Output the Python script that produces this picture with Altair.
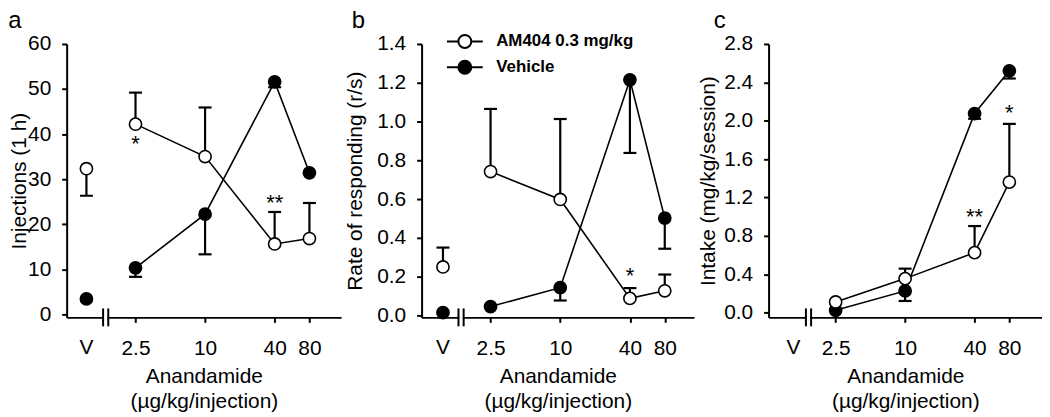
import altair as alt
import pandas as pd

FONT = "Liberation Sans"

series = ["AM404 0.3 mg/kg", "Vehicle"]
doses = [2.5, 10, 40, 80]

# ---- panel a : Injections (1 h)
a_am404 = [42.2, 35.0, 15.6, 16.8]
a_am404_err = [49.2, 45.9, 22.7, 24.7]
a_vehicle = [10.3, 22.2, 51.6, 31.4]
a_vehicle_err = [8.3, 13.3, 50.4, None]
a_v = [32.3, 3.4]          # vehicle-only (V) values: AM404, Vehicle
a_v_err = [26.3, None]
a_stars_x = [2.5, 40]
a_stars_y = [39.2, 26.0]
a_stars_t = ["*", "**"]

# ---- panel b : Rate of responding (r/s)
b_am404 = [0.742, 0.598, 0.088, 0.127]
b_am404_err = [1.065, 1.013, 0.141, 0.211]
b_vehicle = [0.046, 0.143, 1.215, 0.502]
b_vehicle_err = [None, 0.077, 0.838, 0.344]
b_v = [0.25, 0.014]
b_v_err = [0.35, None]
b_stars_x = [40]
b_stars_y = [0.232]
b_stars_t = ["*"]

# ---- panel c : Intake (mg/kg/session)
c_am404 = [0.111, 0.354, 0.625, 1.36]
c_am404_err = [None, 0.458, 0.902, 1.967]
c_vehicle = [0.024, 0.226, 2.075, 2.52]
c_vehicle_err = [None, 0.121, 2.02, 2.44]
c_v = [None, None]
c_v_err = [None, None]
c_stars_x = [40, 80]
c_stars_y = [1.062, 2.144]
c_stars_t = ["**", "*"]

# x-scale placement of the "V" category and of the axis break (dose units, log scale)
v_pos = [0.94, 0.97, 1.08]
break_pos = [1.38, 1.39, 1.455]
x_domains = [[0.634, 150.3], [0.634, 143.2], [0.656, 153.5]]
widths = [276, 274, 275]
H = 275

LEGEND_PATH = "M-2.77,0H-1M1,0H2.77M-1,0A1,1,0,1,0,1,0A1,1,0,1,0,-1,0Z"


def panel(idx, letter, am, am_err, veh, veh_err, vvals, verr, sx, sy, st,
          ytitle, ydomain, yvalues, yformat, tpad, title_dx, legend):
    rows = []
    for s, vals, errs in [(series[1], veh, veh_err), (series[0], am, am_err)]:
        for d, v, e in zip(doses, vals, errs):
            rows.append(dict(x=d, y=v, err=e, series=s, dose=True))
    for s, v, e in zip(series, vvals, verr):
        if v is not None:
            rows.append(dict(x=v_pos[idx], y=v, err=e, series=s, dose=False))
    df = pd.DataFrame(rows)
    df_err = df.dropna(subset=["err"])
    df_line = df[df["dose"]]
    df_star = pd.DataFrame(dict(x=sx, y=sy, t=st))
    df_v = pd.DataFrame(dict(x=[v_pos[idx]], t=["V"]))
    df_brk = pd.DataFrame(dict(x=[break_pos[idx]]))

    xs = alt.Scale(type="log", domain=x_domains[idx], nice=False, zero=False)
    ys = alt.Scale(domain=ydomain, nice=False, zero=False)
    xax = alt.Axis(values=doses, format="~g", title=["Anandamide", "(µg/kg/injection)"],
                   tickSize=5, labelPadding=15, titlePadding=8, titleLineHeight=25,
                   grid=False, labelFlush=False, labelOverlap=False)
    yax = alt.Axis(values=yvalues, format=yformat, title=ytitle, tickSize=5,
                   labelPadding=11, titlePadding=tpad, grid=False, labelOverlap=False,
                   tickCount=len(yvalues))

    X = alt.X("x:Q", scale=xs, axis=xax)
    Y = alt.Y("y:Q", scale=ys, axis=yax)
    Yerr = alt.Y("err:Q", scale=ys, axis=yax)

    err_rule = alt.Chart(df_err).mark_rule(color="black", strokeWidth=2.2).encode(
        x=X, y=Y, y2="err:Q")
    err_cap = alt.Chart(df_err).mark_tick(color="black", orient="horizontal", size=13,
                                          thickness=2.2, opacity=1).encode(
        x=X, y=Yerr)
    line = alt.Chart(df_line).mark_line(color="black", strokeWidth=1.6).encode(
        x=X, y=Y, detail="series:N")
    fill_enc = alt.Fill("series:N", scale=alt.Scale(domain=series, range=["white", "black"]),
                        legend=legend)
    pts = alt.Chart(df).mark_point(filled=True, shape="circle", size=150, stroke="black",
                                   strokeWidth=1.6, opacity=1).encode(
        x=X, y=Y, fill=fill_enc)
    stars = alt.Chart(df_star).mark_text(font=FONT, fontSize=22, color="black",
                                         baseline="middle", dy=6).encode(
        x=X, y=Y, text="t:N")
    vlab = alt.Chart(df_v).mark_text(font=FONT, fontSize=21, color="black",
                                     baseline="top").encode(
        x=X, y=alt.value(H + 20), text="t:N")
    gap = alt.Chart(df_brk).mark_rule(color="white", strokeWidth=3.5).encode(
        x=X, y=alt.value(H - 2), y2=alt.value(H + 2))
    brk1 = alt.Chart(df_brk).mark_rule(color="black", strokeWidth=2, xOffset=-2.6).encode(
        x=X, y=alt.value(H - 9), y2=alt.value(H + 9))
    brk2 = alt.Chart(df_brk).mark_rule(color="black", strokeWidth=2, xOffset=2.6).encode(
        x=X, y=alt.value(H - 9), y2=alt.value(H + 9))

    return alt.layer(err_rule, err_cap, line, pts, stars, vlab, gap, brk1, brk2).properties(
        width=widths[idx], height=H,
        title=alt.TitleParams(letter, anchor="start", frame="bounds", fontSize=24,
                              fontWeight="normal", font=FONT, color="black",
                              offset=0, dx=title_dx),
    )


legend_b = alt.Legend(title=None, orient="none", legendX=35, legendY=-11,
                      symbolType=LEGEND_PATH, symbolSize=169, symbolStrokeColor="black",
                      symbolStrokeWidth=2, labelFont=FONT, labelFontSize=17,
                      labelFontWeight="bold", labelColor="black", labelOffset=23,
                      rowPadding=5, padding=0)

pa = panel(0, "a", a_am404, a_am404_err, a_vehicle, a_vehicle_err, a_v, a_v_err,
           a_stars_x, a_stars_y, a_stars_t, "Injections (1 h)", [-0.7, 60],
           [0, 10, 20, 30, 40, 50, 60], "d", -1.5, 0, None)
pb = panel(1, "b", b_am404, b_am404_err, b_vehicle, b_vehicle_err, b_v, b_v_err,
           b_stars_x, b_stars_y, b_stars_t, "Rate of responding (r/s)", [-0.01, 1.4],
           [0, 0.2, 0.4, 0.6, 0.8, 1.0, 1.2, 1.4], ".1f", 11, 7, legend_b)
pc = panel(2, "c", c_am404, c_am404_err, c_vehicle, c_vehicle_err, c_v, c_v_err,
           c_stars_x, c_stars_y, c_stars_t, "Intake (mg/kg/session)", [-0.05, 2.8],
           [0, 0.4, 0.8, 1.2, 1.6, 2.0, 2.4, 2.8], ".1f", 5, 16, None)

chart = alt.hconcat(pa, pb, pc, spacing=3).resolve_scale(
    fill="independent", x="independent", y="independent"
).resolve_legend(fill="independent").properties(
    padding={"left": 0, "top": 0, "right": 0, "bottom": 0},
    background="white",
).configure_view(stroke=None).configure_axis(
    domainColor="black", domainWidth=2, tickColor="black", tickWidth=2,
    labelFont=FONT, labelFontSize=21, labelColor="black",
    titleFont=FONT, titleFontSize=21, titleFontWeight="normal", titleColor="black",
    zindex=0,
)

chart.save("out.html", embed_options={"renderer": "svg", "actions": False})
